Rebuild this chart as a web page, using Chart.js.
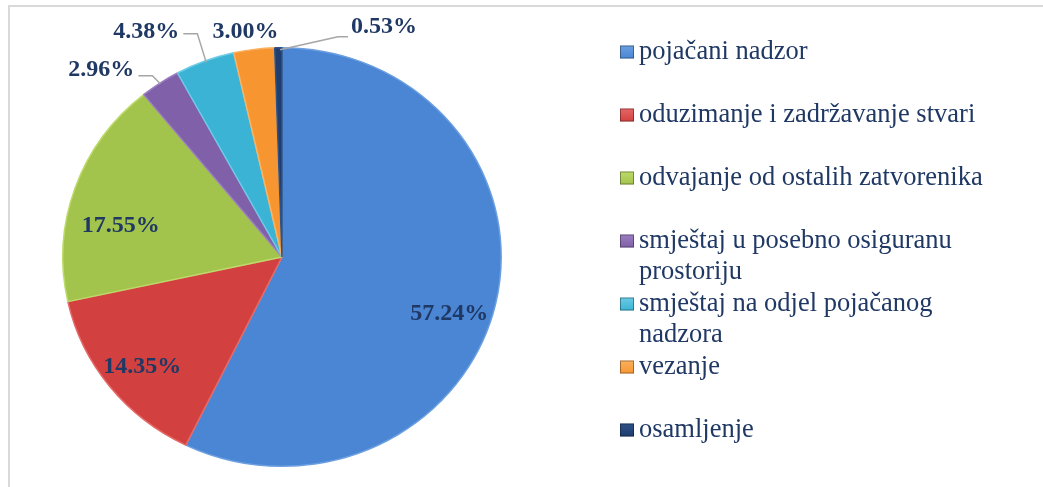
<!DOCTYPE html>
<html>
<head>
<meta charset="utf-8">
<script src="https://cdn.jsdelivr.net/npm/chart.js@4.4.0/dist/chart.umd.min.js"></script>
<style>
  html, body { margin: 0; padding: 0; background: #ffffff; }
  #wrap { position: relative; width: 1043px; height: 487px; overflow: hidden; }
  #frame { position: absolute; left: 8px; top: 5px; width: 1100px; height: 600px;
           border-left: 2px solid #d9d9d9; border-top: 2px solid #d9d9d9; box-sizing: border-box; }
  canvas { position: absolute; left: 0; top: 0; }
</style>
</head>
<body>
<div id="wrap">
  <div id="frame"></div>
  <canvas id="c" width="1043" height="487"></canvas>
</div>
<script>
// ---- data ----
const categories = [
  'pojačani nadzor',
  'oduzimanje i zadržavanje stvari',
  'odvajanje od ostalih zatvorenika',
  ['smještaj u posebno osiguranu', 'prostoriju'],
  ['smještaj na odjel pojačanog', 'nadzora'],
  'vezanje',
  'osamljenje'
];
const percentValues = [57.24, 14.35, 17.55, 2.96, 4.38, 3.00, 0.53];
const valueLabels = ['57.24%', '14.35%', '17.55%', '2.96%', '4.38%', '3.00%', '0.53%'];

// ---- style ----
const sliceColors = ['#4a86d4', '#d2413f', '#a2c34c', '#8060a8', '#3bb3d5', '#f79530', '#1f3d6e'];
const sliceEdge   = ['#6c9fe0', '#e66866', '#bddb6a', '#9b7ec0', '#6ccbe6', '#fbb160', '#2e5288'];
const textColor = '#1f3864';
const squash = { sx: 1.023, sy: 0.977 };   // slight elliptical look of the original pie
const labelPlacement = [
  { inside: true, frac: 0.81, rot: 6.5 },
  { inside: true, frac: 0.825, rot: -1.3 },
  { inside: true, frac: 0.75, rot: -8 },
  { inside: false, dx: -58.7, dy: -13.4, leader: [[0.3, 0.6], [-7.7, -7.4], [-21.7, -7.4]] },
  { inside: false, dx: -58.6, dy: -29.4, leader: [[1.4, 1.6], [-7.6, -27.4], [-21.6, -27.4]] },
  { inside: false, dx: -8.6, dy: -17.6, leader: null },
  { inside: false, dx: 105.6, dy: -21, leader: [[1.6, 2], [59.6, -11], [69.6, -11]] }
];

function scaledPoint(p, ang, r) {
  return {
    x: p.x + Math.cos(ang) * r * squash.sx,
    y: p.y + Math.sin(ang) * r * squash.sy
  };
}

const squashPlugin = {
  id: 'squash',
  beforeDatasetsDraw(chart) {
    const ctx = chart.ctx;
    const a = chart.getDatasetMeta(0).data[0];
    ctx.save();
    ctx.translate(a.x, a.y);
    ctx.scale(squash.sx, squash.sy);
    ctx.translate(-a.x, -a.y);
  },
  afterDatasetsDraw(chart) {
    chart.ctx.restore();
  }
};

const labelPlugin = {
  id: 'sliceLabels',
  afterDatasetsDraw(chart) {
    const ctx = chart.ctx;
    const meta = chart.getDatasetMeta(0);
    ctx.save();
    ctx.font = 'bold 24px "Liberation Serif", "Times New Roman", serif';
    ctx.fillStyle = textColor;
    ctx.textAlign = 'center';
    ctx.textBaseline = 'middle';
    meta.data.forEach((arc, i) => {
      const p = arc.getProps(['x', 'y', 'startAngle', 'endAngle', 'outerRadius'], true);
      let mid = (p.startAngle + p.endAngle) / 2;
      const cfg = labelPlacement[i];
      if (cfg.inside) {
        if (cfg.rot) mid += cfg.rot * Math.PI / 180;
        const q = scaledPoint(p, mid, p.outerRadius * cfg.frac);
        ctx.fillText(valueLabels[i], q.x, q.y);
      } else {
        const e = scaledPoint(p, mid, p.outerRadius);
        if (cfg.leader) {
          ctx.strokeStyle = '#a6a6a6';
          ctx.lineWidth = 1.5;
          ctx.beginPath();
          cfg.leader.forEach((pt, k) => {
            if (k === 0) ctx.moveTo(e.x + pt[0], e.y + pt[1]);
            else ctx.lineTo(e.x + pt[0], e.y + pt[1]);
          });
          ctx.stroke();
        }
        ctx.fillText(valueLabels[i], e.x + cfg.dx, e.y + cfg.dy);
      }
    });
    ctx.restore();
  }
};

const legendPlugin = {
  id: 'sideLegend',
  afterDraw(chart) {
    const ctx = chart.ctx;
    const x0 = 620, y0 = 52, step = 63, lineH = 31;
    ctx.save();
    ctx.font = '26.5px "Liberation Serif", "Times New Roman", serif';
    ctx.textBaseline = 'middle';
    ctx.textAlign = 'left';
    categories.forEach((lab, i) => {
      const y = y0 + step * i;
      const g = ctx.createLinearGradient(x0, y - 7, x0, y + 7);
      g.addColorStop(0, sliceEdge[i]);
      g.addColorStop(1, sliceColors[i]);
      ctx.fillStyle = g;
      ctx.fillRect(x0, y - 6.5, 14, 13);
      ctx.strokeStyle = 'rgba(0,0,0,0.35)';
      ctx.lineWidth = 1;
      ctx.strokeRect(x0 + 0.5, y - 6, 13, 12);
      ctx.fillStyle = textColor;
      const lines = Array.isArray(lab) ? lab : [lab];
      lines.forEach((t, k) => ctx.fillText(t, x0 + 19, y + k * lineH));
    });
    ctx.restore();
  }
};

new Chart(document.getElementById('c'), {
  type: 'pie',
  data: {
    labels: categories,
    datasets: [{
      data: percentValues,
      backgroundColor: sliceColors,
      borderColor: sliceEdge,
      borderWidth: 1.5
    }]
  },
  options: {
    responsive: false,
    animation: false,
    layout: { padding: { left: 67, right: 546, top: 42, bottom: 15 } },
    plugins: {
      legend: { display: false },
      tooltip: { enabled: false },
      title: { display: false }
    }
  },
  plugins: [squashPlugin, labelPlugin, legendPlugin]
});
</script>
</body>
</html>
